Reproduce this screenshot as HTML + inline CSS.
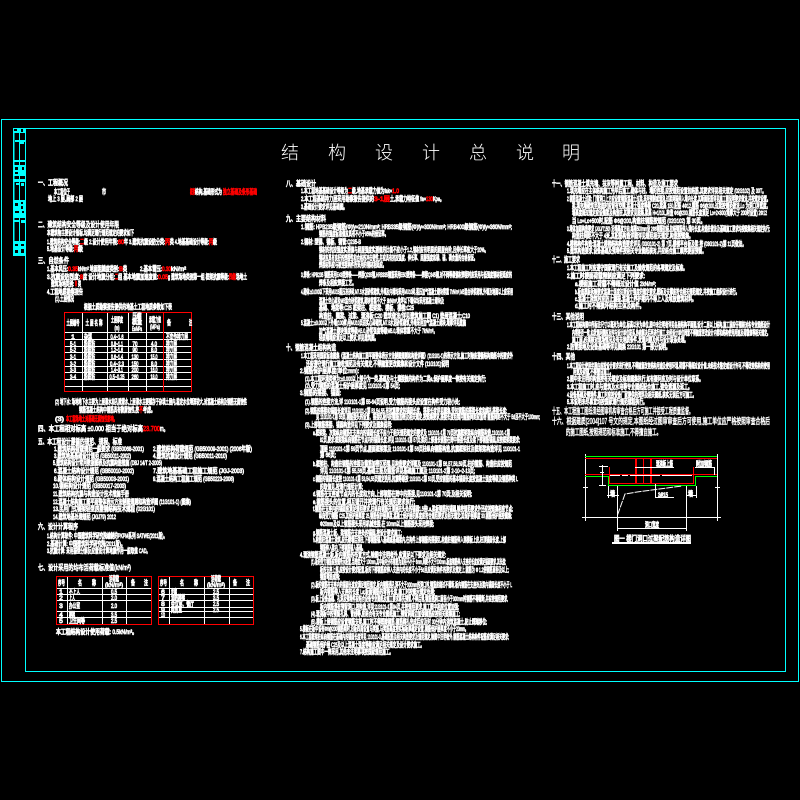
<!DOCTYPE html>
<html lang="zh"><head><meta charset="utf-8"><title>结构设计总说明</title>
<style>
html,body{margin:0;padding:0;background:#000;width:800px;height:800px;overflow:hidden}
svg{display:block}
text{font-family:"Liberation Sans","Noto Sans CJK SC","WenQuanYi Zen Hei",sans-serif;font-size:6.6px;fill:#fff;stroke:#fff;stroke-width:.85}
text.r{fill:#f00;stroke:#f00}
text.h{font-size:7.6px;stroke-width:.8}
text.b{font-size:8.4px;stroke-width:.5}
text.t{font-family:"Noto Sans CJK SC","WenQuanYi Zen Hei",sans-serif;font-size:18px;font-weight:300;stroke:none;text-anchor:middle}
text.c{text-anchor:middle}
.l line,.l path,.l rect{shape-rendering:crispEdges}
</style></head><body>
<svg width="800" height="800" viewBox="0 0 800 800" xmlns="http://www.w3.org/2000/svg">
<rect width="800" height="800" fill="#000"/>
<g class="l" fill="none">
<!-- frame -->
<rect x="1.5" y="119.5" width="797" height="562" stroke="#0ff"/>
<rect x="25.5" y="128.5" width="760" height="543" stroke="#0ff"/>
<rect x="13.5" y="128.5" width="12" height="127" stroke="#0ff"/>
<path d="M19.5 128V256M14 128V256" stroke="#0ff"/>
<g fill="#0ff" stroke="none">
<rect x="13" y="128" width="13" height="5"/><rect x="14" y="129" width="3" height="2" fill="#000"/><rect x="21" y="129" width="2" height="3" fill="#000"/>
<rect x="15" y="140" width="10" height="2"/><rect x="20" y="142" width="4" height="2"/>
<rect x="13" y="160" width="13" height="2"/><rect x="13" y="165" width="13" height="11"/><rect x="15" y="167" width="3" height="3" fill="#000"/><rect x="22" y="167" width="2" height="3" fill="#000"/>
<rect x="15" y="172" width="3" height="2" fill="#000"/>
<rect x="13" y="179" width="13" height="3"/><rect x="16" y="183" width="3" height="2"/><rect x="21" y="183" width="3" height="3"/>
<rect x="13" y="200" width="13" height="18"/><rect x="15" y="203" width="3" height="3" fill="#000"/><rect x="21" y="202" width="2" height="2" fill="#000"/><rect x="21" y="206" width="2" height="3" fill="#000"/>
<rect x="15" y="211" width="4" height="2" fill="#000"/><rect x="22" y="211" width="2" height="2" fill="#000"/>
<rect x="13" y="220" width="6" height="2"/><rect x="21" y="220" width="4" height="3"/>
<rect x="13" y="241" width="13" height="15"/><rect x="15" y="244" width="3" height="2" fill="#000"/><rect x="21" y="244" width="3" height="2" fill="#000"/><rect x="15" y="250" width="3" height="3" fill="#000"/><rect x="21" y="249" width="3" height="4" fill="#000"/>
</g>
<!-- soil table -->
<path d="M64 332.5H192M64 339.5H192M64 346.5H192M64 352.5H192M64 359.5H192M64 366.5H192M64 372.5H192M64 379.5H192M64 386.5H192M82.5 312V392M107.5 312V392M128.5 312V392M146.5 312V392" stroke="#fff"/>
<path d="M163.5 312V392" stroke="#f00"/>
<rect x="64.5" y="312.5" width="127" height="79" stroke="#f00"/>
<!-- load tables -->
<path d="M56 588.5H152M56 594.5H152M56 600.5H152M56 611.5H152M56 617.5H152M67.5 576V625M102.5 576V625M126.5 576V625" stroke="#fff"/>
<rect x="56.5" y="576.5" width="95" height="48" stroke="#f00"/>
<path d="M158 588.5H254M158 594.5H254M158 600.5H254M158 607.5H254M158 611.5H254M158 617.5H254M169.5 576V625M204.5 576V625M229.5 576V625" stroke="#fff"/>
<rect x="158.5" y="576.5" width="95" height="48" stroke="#f00"/>
<!-- detail -->
<path d="M585.5 454V521M717.5 454V521M582 517.5H721M583 487.5H588M715 487.5H720" stroke="#fff"/>
<path d="M585 456.5H717" stroke="#0f0" stroke-width="1"/>
<path d="M585 458.5H717" stroke="#f00"/>
<path d="M585 474.5H717" stroke="#f00"/>
<path d="M585 476.5H608.5V485.5H695.5V476.5H717" stroke="#0f0"/>
<path d="M609.5 467V483.5H693.5V467" stroke="#f00"/>
<rect x="635" y="458" width="2" height="25" fill="#f00" stroke="none"/>
<rect x="650" y="458" width="2" height="25" fill="#f00" stroke="none"/>
<path d="M643.5 458V483" stroke="#f00"/>
<path d="M610 475.5H620M622 475.5H628M630 475.5H654M654 475.5H660M662 475.5H692" stroke="#fff"/>
<path d="M635 467.5H674M695 467.5H714.5V475M602.5 465V485M599 466.5H608M599 485.5H606M600 472.5H604" stroke="#fff"/>
<path d="M655.5 484V497.5H674M608.5 486V498M607 495.5H619M696.5 486V498M686 495.5H696" stroke="#fff"/>
<path d="M617.5 486V531M686.5 486V531M617 528.5H687" stroke="#fff"/>
<rect x="612" y="542" width="79" height="2" fill="#fff" stroke="none"/>
</g>
<path d="M617.5 515L625 494L637 492L652 490L667 488L682 486" fill="none" stroke="#fff" stroke-dasharray="7 1"/>
<!-- title -->
<text class="t" x="290" y="159">结</text><text class="t" x="337" y="159">构</text><text class="t" x="384" y="159">设</text><text class="t" x="431" y="159">计</text><text class="t" x="478" y="159">总</text><text class="t" x="525" y="159">说</text><text class="t" x="571" y="159">明</text>

<!-- column 1 -->
<text class="h" x="38" y="185" textLength="30" lengthAdjust="spacingAndGlyphs">一、工程概况</text>
<text x="54" y="194" textLength="16" lengthAdjust="spacingAndGlyphs">本工程位于</text><text x="102" y="194" textLength="4" lengthAdjust="spacingAndGlyphs">市</text>
<text class="r" x="190" y="194" textLength="5" lengthAdjust="spacingAndGlyphs">框架</text><text x="195" y="194" textLength="27" lengthAdjust="spacingAndGlyphs">结构,基础形式为</text><text class="r" x="223" y="194" textLength="34" lengthAdjust="spacingAndGlyphs">独立基础及条形基础</text>
<text x="48" y="201" textLength="35" lengthAdjust="spacingAndGlyphs">地上 3 层,局部 2 层</text>
<text class="h" x="38" y="227" textLength="81" lengthAdjust="spacingAndGlyphs">二、建筑结构安全等级及设计使用年限</text>
<text x="47" y="235" textLength="87" lengthAdjust="spacingAndGlyphs">本建筑物主要设计指标,均满足现行规范规定的要求如下</text>
<text x="47" y="244" textLength="33" lengthAdjust="spacingAndGlyphs">1.建筑结构安全等级:</text><text class="r" x="80" y="244" textLength="4" lengthAdjust="spacingAndGlyphs">二</text><text x="84" y="244" textLength="34" lengthAdjust="spacingAndGlyphs">级 2.设计使用年限:</text><text class="r" x="118" y="244" textLength="6" lengthAdjust="spacingAndGlyphs">60</text><text x="124" y="244" textLength="41" lengthAdjust="spacingAndGlyphs">年 3.建筑抗震设防分类:</text><text class="r" x="165" y="244" textLength="5" lengthAdjust="spacingAndGlyphs">丙</text><text x="170" y="244" textLength="39" lengthAdjust="spacingAndGlyphs">类 4.地基基础设计等级:</text><text class="r" x="209" y="244" textLength="4" lengthAdjust="spacingAndGlyphs">丙</text><text x="213" y="244" textLength="4" lengthAdjust="spacingAndGlyphs">级</text>
<text x="47" y="251" textLength="27" lengthAdjust="spacingAndGlyphs">5.地基设计等级:</text><text class="r" x="74" y="251" textLength="4" lengthAdjust="spacingAndGlyphs">丙</text><text x="78" y="251" textLength="5" lengthAdjust="spacingAndGlyphs">级</text>
<text class="h" x="38" y="263" textLength="31" lengthAdjust="spacingAndGlyphs">三、自然条件</text>
<text x="47" y="271" textLength="21" lengthAdjust="spacingAndGlyphs">1.基本风压:</text><text class="r" x="68" y="271" textLength="10" lengthAdjust="spacingAndGlyphs">0.35</text><text x="78" y="271" textLength="41" lengthAdjust="spacingAndGlyphs">kN/m² 地面粗糙度类别:</text><text class="r" x="119" y="271" textLength="4" lengthAdjust="spacingAndGlyphs">B</text><text x="123" y="271" textLength="4" lengthAdjust="spacingAndGlyphs">类</text><text x="140" y="271" textLength="22" lengthAdjust="spacingAndGlyphs">2.基本雪压:</text><text class="r" x="162" y="271" textLength="9" lengthAdjust="spacingAndGlyphs">0.30</text><text x="171" y="271" textLength="15" lengthAdjust="spacingAndGlyphs">kN/m²</text>
<text x="47" y="279" textLength="33" lengthAdjust="spacingAndGlyphs">3.抗震设防烈度:</text><text class="r" x="80" y="279" textLength="3" lengthAdjust="spacingAndGlyphs">8</text><text x="83" y="279" textLength="32" lengthAdjust="spacingAndGlyphs">度 设计地震分组:</text><text class="r" x="115" y="279" textLength="3" lengthAdjust="spacingAndGlyphs">二</text><text x="118" y="279" textLength="40" lengthAdjust="spacingAndGlyphs">组 基本地震加速度值:</text><text class="r" x="158" y="279" textLength="10" lengthAdjust="spacingAndGlyphs">0.05</text><text x="168" y="279" textLength="61" lengthAdjust="spacingAndGlyphs">g 建筑场地类别第一组 框架抗震等级:</text><text class="r" x="229" y="279" textLength="7" lengthAdjust="spacingAndGlyphs">四级</text><text x="236" y="279" textLength="11" lengthAdjust="spacingAndGlyphs">场地土</text>
<text x="51" y="286" textLength="23" lengthAdjust="spacingAndGlyphs">建筑场地类别:</text><text class="r" x="74" y="286" textLength="4" lengthAdjust="spacingAndGlyphs">Ⅱ</text><text x="78" y="286" textLength="3" lengthAdjust="spacingAndGlyphs">类</text>
<text x="47" y="294" textLength="36" lengthAdjust="spacingAndGlyphs">4.工程地质勘察报告</text>
<text x="55" y="301" textLength="19" lengthAdjust="spacingAndGlyphs">(1).土层情况</text>
<text x="84" y="309" textLength="88" lengthAdjust="spacingAndGlyphs">根据土质勘察报告提供的地基土工程地质参数如下表</text>
<!-- soil table text -->
<text class="c" x="73" y="325" textLength="13" lengthAdjust="spacingAndGlyphs">土层编号</text><text class="c" x="94" y="325" textLength="17" lengthAdjust="spacingAndGlyphs">土 层 名 称</text>
<text class="c" x="117" y="322" textLength="12" lengthAdjust="spacingAndGlyphs">土层厚度</text><text class="c" x="117" y="330" textLength="5" lengthAdjust="spacingAndGlyphs">(m)</text>
<text class="c" x="137" y="318" textLength="9" lengthAdjust="spacingAndGlyphs">压缩</text><text class="c" x="137" y="324" textLength="10" lengthAdjust="spacingAndGlyphs">模量</text><text class="c" x="137" y="331" textLength="10" lengthAdjust="spacingAndGlyphs">Es/MPa</text>
<text class="c" x="155" y="322" textLength="12" lengthAdjust="spacingAndGlyphs">承载力值</text><text class="c" x="155" y="329" textLength="10" lengthAdjust="spacingAndGlyphs">(MPa)</text>
<text x="167" y="325" textLength="4" lengthAdjust="spacingAndGlyphs">备</text><text x="189" y="325" textLength="3" lengthAdjust="spacingAndGlyphs">注</text>
<text class="c" x="73" y="339">1</text><text x="84" y="339" textLength="8" lengthAdjust="spacingAndGlyphs">杂填</text><text class="c" x="117" y="339" textLength="13" lengthAdjust="spacingAndGlyphs">0.4~1.6</text><text x="166" y="339" textLength="22" lengthAdjust="spacingAndGlyphs">不宜作持力层</text>
<text class="c" x="73" y="346" textLength="6" lengthAdjust="spacingAndGlyphs">5-1</text><text x="84" y="346" textLength="11" lengthAdjust="spacingAndGlyphs">粉质粘</text><text class="c" x="117" y="346" textLength="12" lengthAdjust="spacingAndGlyphs">0.8~1.1</text><text class="c" x="135" y="346" textLength="5" lengthAdjust="spacingAndGlyphs">70</text><text class="c" x="154" y="346" textLength="6" lengthAdjust="spacingAndGlyphs">4.0</text><text x="166" y="346" textLength="11" lengthAdjust="spacingAndGlyphs">持力层</text>
<text class="c" x="73" y="352" textLength="6" lengthAdjust="spacingAndGlyphs">5-2</text><text x="84" y="352" textLength="11" lengthAdjust="spacingAndGlyphs">粉质粘</text><text class="c" x="117" y="352" textLength="12" lengthAdjust="spacingAndGlyphs">1.2~1.6</text><text class="c" x="135" y="352" textLength="5" lengthAdjust="spacingAndGlyphs">90</text><text class="c" x="154" y="352" textLength="6" lengthAdjust="spacingAndGlyphs">8.0</text><text x="166" y="352" textLength="11" lengthAdjust="spacingAndGlyphs">持力层</text>
<text class="c" x="73" y="359" textLength="6" lengthAdjust="spacingAndGlyphs">3-1</text><text x="84" y="359" textLength="11" lengthAdjust="spacingAndGlyphs">粉质粘</text><text class="c" x="117" y="359" textLength="12" lengthAdjust="spacingAndGlyphs">0.6~1.4</text><text class="c" x="135" y="359" textLength="7" lengthAdjust="spacingAndGlyphs">130</text><text class="c" x="154" y="359" textLength="7" lengthAdjust="spacingAndGlyphs">15.0</text><text x="166" y="359" textLength="11" lengthAdjust="spacingAndGlyphs">持力层</text>
<text class="c" x="73" y="366" textLength="6" lengthAdjust="spacingAndGlyphs">3-2</text><text x="84" y="366" textLength="11" lengthAdjust="spacingAndGlyphs">粉质粘</text><text class="c" x="117" y="366" textLength="14" lengthAdjust="spacingAndGlyphs">0.4~2.3</text><text class="c" x="135" y="366" textLength="7" lengthAdjust="spacingAndGlyphs">150</text><text class="c" x="154" y="366" textLength="6" lengthAdjust="spacingAndGlyphs">8.0</text><text x="166" y="366" textLength="11" lengthAdjust="spacingAndGlyphs">持力层</text>
<text class="c" x="73" y="372" textLength="6" lengthAdjust="spacingAndGlyphs">3-3</text><text x="84" y="372" textLength="11" lengthAdjust="spacingAndGlyphs">粉质粘</text><text class="c" x="117" y="372" textLength="12" lengthAdjust="spacingAndGlyphs">1.4~3.1</text><text class="c" x="135" y="372" textLength="7" lengthAdjust="spacingAndGlyphs">200</text><text class="c" x="154" y="372" textLength="7" lengthAdjust="spacingAndGlyphs">16.0</text><text x="166" y="372" textLength="11" lengthAdjust="spacingAndGlyphs">持力层</text>
<text class="c" x="73" y="379" textLength="6" lengthAdjust="spacingAndGlyphs">3-4</text><text x="84" y="379" textLength="11" lengthAdjust="spacingAndGlyphs">粉质粘</text><text class="c" x="117" y="379" textLength="15" lengthAdjust="spacingAndGlyphs">0.5~0.25</text><text class="c" x="135" y="379" textLength="7" lengthAdjust="spacingAndGlyphs">260</text><text class="c" x="154" y="379" textLength="7" lengthAdjust="spacingAndGlyphs">18.0</text><text x="166" y="379" textLength="11" lengthAdjust="spacingAndGlyphs">持力层</text>

<text x="55" y="404" textLength="192" lengthAdjust="spacingAndGlyphs">(2) 地下水: 场地地下水主要为上层滞水和孔隙潜水,上层滞水主要赋存于杂填土层内,稳定水位埋深较大,对混凝土结构及钢筋无腐蚀性</text>
<text x="79" y="412" textLength="60" lengthAdjust="spacingAndGlyphs">钢筋混凝土结构中钢筋具有微腐蚀性,按</text><text class="r" x="139" y="412" textLength="4" lengthAdjust="spacingAndGlyphs">不</text><text x="143" y="412" textLength="12" lengthAdjust="spacingAndGlyphs">考虑。</text>
<text x="55" y="421" textLength="9" lengthAdjust="spacingAndGlyphs">(3)</text><text class="r" x="66" y="421" textLength="51" lengthAdjust="spacingAndGlyphs">本工程场地土对基础无腐蚀性影响。</text>
<text class="h" x="38" y="431" textLength="105" lengthAdjust="spacingAndGlyphs">四、本工程相对标高 ±0.000 相当于绝对标高</text><text class="r h" x="143" y="431" textLength="17" lengthAdjust="spacingAndGlyphs">23.700</text><text class="h" x="160" y="431" textLength="8" lengthAdjust="spacingAndGlyphs">m。</text>
<text class="h" x="38" y="444" textLength="84" lengthAdjust="spacingAndGlyphs">五、本工程设计遵循的规范、规程、标准</text>
<text x="54" y="451" textLength="90" lengthAdjust="spacingAndGlyphs">1.建筑结构荷载规范一般要求 (GB50068-2001)</text><text x="153" y="451" textLength="99" lengthAdjust="spacingAndGlyphs">2.建筑结构荷载规范 (GB50009-2001) (2006年版)</text>
<text x="54" y="458" textLength="77" lengthAdjust="spacingAndGlyphs">3.建筑地基基础设计规范 (GB50011-2002)</text><text x="153" y="458" textLength="74" lengthAdjust="spacingAndGlyphs">4.建筑抗震设计规范 (GB50011-2010)</text>
<text x="53" y="465" textLength="109" lengthAdjust="spacingAndGlyphs">5.建筑结构设计常用数据图表及抗震构造措施 (DBJ 14/T 2-2005)</text>
<text x="54" y="473" textLength="80" lengthAdjust="spacingAndGlyphs">6.混凝土结构设计规范 (GB50010-2002)</text><text x="153" y="473" textLength="91" lengthAdjust="spacingAndGlyphs">7.建筑地基基础工程施工规范 (JGJ-2003)</text>
<text x="54" y="481" textLength="75" lengthAdjust="spacingAndGlyphs">8.砌体结构设计规范 (GB50003-2001)</text><text x="153" y="481" textLength="81" lengthAdjust="spacingAndGlyphs">9.混凝土结构工程施工规范 (GB50223-2008)</text>
<text x="53" y="488" textLength="73" lengthAdjust="spacingAndGlyphs">10.钢结构设计规范 (GB50017-2003)</text>
<text x="53" y="496" textLength="76" lengthAdjust="spacingAndGlyphs">11.建筑结构抗震与构造设计技术措施手册</text>
<text x="53" y="504" textLength="138" lengthAdjust="spacingAndGlyphs">12.混凝土结构施工图平面整体表示方法制图规则和构造详图 (11G101-1) (图集)</text>
<text x="53" y="511" textLength="102" lengthAdjust="spacingAndGlyphs">13.民用门式钢架轻型房屋钢结构技术规程 (02G101)</text>
<text x="53" y="519" textLength="63" lengthAdjust="spacingAndGlyphs">14.建筑地基处理规范 (JGJ79) 2012</text>
<text class="h" x="38" y="529" textLength="40" lengthAdjust="spacingAndGlyphs">六、设计计算程序</text>
<text x="47" y="538" textLength="120" lengthAdjust="spacingAndGlyphs">1.结构计算软件: 中国建筑科学研究院编制的PKPM系列 SATWE(2011版)。</text>
<text x="47" y="546" textLength="78" lengthAdjust="spacingAndGlyphs">2.基础计算: 中国建筑科学研究院(2011版)。</text>
<text x="47" y="553" textLength="103" lengthAdjust="spacingAndGlyphs">3.抗震计算: 采用振型分解反应谱法计算地震作用一般取值 CAD。</text>
<text class="h" x="38" y="570" textLength="93" lengthAdjust="spacingAndGlyphs">七、设计采用的均布活荷载标准值(kN/m²)</text>
<!-- load tables text -->
<text class="c" x="61.5" y="585" textLength="7" lengthAdjust="spacingAndGlyphs">序号</text><text x="78" y="585" textLength="4" lengthAdjust="spacingAndGlyphs">名</text><text x="92" y="585" textLength="4" lengthAdjust="spacingAndGlyphs">称</text><text class="c" x="114" y="581" textLength="10" lengthAdjust="spacingAndGlyphs">活荷载</text><text class="c" x="114" y="587" textLength="18" lengthAdjust="spacingAndGlyphs">(kN/m²)</text><text x="131" y="585" textLength="4" lengthAdjust="spacingAndGlyphs">备</text><text x="144" y="585" textLength="4" lengthAdjust="spacingAndGlyphs">注</text>
<text class="c" x="61" y="594">1</text><text x="69" y="594" textLength="11" lengthAdjust="spacingAndGlyphs">不上人</text><text class="c" x="114" y="594" textLength="6" lengthAdjust="spacingAndGlyphs">0.5</text>
<text class="c" x="61" y="600">2</text><text x="69" y="600" textLength="6" lengthAdjust="spacingAndGlyphs">上人</text><text class="c" x="114" y="600" textLength="6" lengthAdjust="spacingAndGlyphs">2.0</text>
<text class="c" x="61" y="608">3</text><text x="69" y="608" textLength="11" lengthAdjust="spacingAndGlyphs">办公室</text><text class="c" x="114" y="608" textLength="6" lengthAdjust="spacingAndGlyphs">2.0</text>
<text class="c" x="61" y="617">4</text><text x="69" y="617" textLength="6" lengthAdjust="spacingAndGlyphs">楼梯</text><text class="c" x="114" y="617" textLength="6" lengthAdjust="spacingAndGlyphs">3.5</text>
<text class="c" x="61" y="623">5</text><text x="69" y="623" textLength="16" lengthAdjust="spacingAndGlyphs">卫生间等</text><text class="c" x="114" y="623" textLength="6" lengthAdjust="spacingAndGlyphs">2.5</text>
<text class="c" x="163.5" y="585" textLength="7" lengthAdjust="spacingAndGlyphs">序号</text><text x="180" y="585" textLength="4" lengthAdjust="spacingAndGlyphs">名</text><text x="194" y="585" textLength="4" lengthAdjust="spacingAndGlyphs">称</text><text class="c" x="216" y="581" textLength="10" lengthAdjust="spacingAndGlyphs">活荷载</text><text class="c" x="216" y="587" textLength="18" lengthAdjust="spacingAndGlyphs">(kN/m²)</text><text x="233" y="585" textLength="4" lengthAdjust="spacingAndGlyphs">备</text><text x="246" y="585" textLength="4" lengthAdjust="spacingAndGlyphs">注</text>
<text class="c" x="163" y="594">6</text><text x="171" y="594" textLength="6" lengthAdjust="spacingAndGlyphs">走廊</text><text class="c" x="216" y="594" textLength="6" lengthAdjust="spacingAndGlyphs">2.5</text>
<text class="c" x="163" y="600">7</text><text x="171" y="600" textLength="14" lengthAdjust="spacingAndGlyphs">消防楼梯</text><text class="c" x="216" y="600" textLength="6" lengthAdjust="spacingAndGlyphs">3.5</text>
<text class="c" x="163" y="606">8</text><text x="171" y="606" textLength="23" lengthAdjust="spacingAndGlyphs">会议室、餐厅</text><text class="c" x="216" y="606" textLength="6" lengthAdjust="spacingAndGlyphs">2.5</text>
<text class="c" x="163" y="612">9</text><text x="171" y="612" textLength="11" lengthAdjust="spacingAndGlyphs">阅览室</text><text class="c" x="216" y="612" textLength="6" lengthAdjust="spacingAndGlyphs">2.5</text>
<text class="c" x="163" y="617" textLength="4" lengthAdjust="spacingAndGlyphs">10</text>
<text x="56" y="634" textLength="81" lengthAdjust="spacingAndGlyphs">本工程结构设计使用荷载: 0.5kN/m²。</text>

<!-- column 2 -->
<text class="h" x="286" y="186" textLength="30" lengthAdjust="spacingAndGlyphs">八、基础设计</text>
<text x="301" y="193" textLength="47" lengthAdjust="spacingAndGlyphs">1.本工程地基基础设计等级为</text><text class="r" x="348" y="193" textLength="4" lengthAdjust="spacingAndGlyphs">二</text><text x="352" y="193" textLength="40" lengthAdjust="spacingAndGlyphs">级,地基承载力值为fak=</text><text class="r" x="392" y="193" textLength="7" lengthAdjust="spacingAndGlyphs">1.0</text>
<text x="301" y="201" textLength="73" lengthAdjust="spacingAndGlyphs">2.本工程基础持力层采用勘察报告提供的</text><text class="r" x="374" y="201" textLength="16" lengthAdjust="spacingAndGlyphs">3-1层</text><text x="390" y="201" textLength="36" lengthAdjust="spacingAndGlyphs">土,承载力特征值 fa=</text><text class="r" x="426" y="201" textLength="7" lengthAdjust="spacingAndGlyphs">130</text><text x="433" y="201" textLength="11" lengthAdjust="spacingAndGlyphs">Kpa。</text>
<text x="301" y="209" textLength="46" lengthAdjust="spacingAndGlyphs">3.基础设计要求详见基础图。</text>
<text class="h" x="286" y="221" textLength="40" lengthAdjust="spacingAndGlyphs">九、主要结构材料</text>
<text x="301" y="229" textLength="211" lengthAdjust="spacingAndGlyphs">1.钢筋: HPB235级钢筋(Φ)fy=210N/mm²; HRB335级钢筋(Φ)fy=300N/mm²; HRB400级钢筋(Φ)fy=360N/mm²;</text>
<text x="319" y="236" textLength="69" lengthAdjust="spacingAndGlyphs">钢筋的强度标准值应具有不小于95%的保证率。</text>
<text x="301" y="244" textLength="60" lengthAdjust="spacingAndGlyphs">2.钢材: 型钢、钢板、钢管:Q235-B</text>
<text x="319" y="252" textLength="169" lengthAdjust="spacingAndGlyphs">钢材的抗拉强度实测值与屈服强度实测值的比值不应小于1.2,钢材应有明显的屈服台阶,且伸长率应大于20%。</text>
<text x="319" y="260" textLength="158" lengthAdjust="spacingAndGlyphs">钢材应具有良好的焊接性和合格的冲击韧性,并应具有抗拉强度、伸长率、屈服强度和碳、硫、磷含量的合格保证。</text>
<text x="319" y="267" textLength="67" lengthAdjust="spacingAndGlyphs">焊接材料应与被连接构件所采用的钢材相适应。</text>
<text x="301" y="277" textLength="211" lengthAdjust="spacingAndGlyphs">3.焊条: HPB235 钢筋采用E43型焊条——焊接Q235钢,HRB335钢筋采用E50型焊条——焊接Q345钢,对不同等级钢材焊接时应采用与低强度钢材相适应的</text>
<text x="319" y="285" textLength="37" lengthAdjust="spacingAndGlyphs">焊条及相应焊接工艺。</text>
<text x="301" y="294" textLength="212" lengthAdjust="spacingAndGlyphs">4.砌体:±0.000以下采用MU15蒸压灰砂砖,M7.5水泥砂浆砌筑,外墙及内墙均采用MU10砖,蒸压加气混凝土砌块容重 7kN/m³,M5混合砂浆砌筑,外墙及地面以上应采用</text>
<text x="319" y="303" textLength="125" lengthAdjust="spacingAndGlyphs">混凝土空心砖及M5混合砂浆砌筑,砌块容重不大于 8kN/m³,地坪以下墙体均采用混凝土砌块及</text>
<text x="319" y="310" textLength="95" lengthAdjust="spacingAndGlyphs">基础、地梁等:C25 框架柱、框架梁、楼板、楼梯:C25</text>
<text x="319" y="318" textLength="151" lengthAdjust="spacingAndGlyphs">构造柱、圈梁、过梁、现浇板:C20 建筑做法(详见建筑施工图 C1) 垫层混凝土:C10</text>
<text x="301" y="325" textLength="165" lengthAdjust="spacingAndGlyphs">5.混凝土:±0.000以下外墙(100厚)用MU10页岩实心砖砌筑,M7.5水泥砂浆砌筑,外墙采用加气混凝土砌块,墙厚详见建施</text>
<text x="319" y="333" textLength="118" lengthAdjust="spacingAndGlyphs">加气混凝土砌块强度等级A5.0,砂浆强度等级M5.0,墙体容重不大于 7kN/m³。</text>
<text x="319" y="340" textLength="59" lengthAdjust="spacingAndGlyphs">轻质隔墙应满足以上要求,详见建筑图。</text>
<text class="h" x="286" y="350" textLength="50" lengthAdjust="spacingAndGlyphs">十、钢筋混凝土结构构造</text>
<text x="301" y="358" textLength="212" lengthAdjust="spacingAndGlyphs">1.本工程采用国家标准图集《混凝土结构施工图平面整体表示方法制图规则和构造详图》(11G101-1)的表示方法,施工时除应遵循结构图纸中的要求外</text>
<text x="306" y="366" textLength="143" lengthAdjust="spacingAndGlyphs">还应遵守现行施工验收规范及有关规定,不得随意更改图集和设计文件 (11G101)说明</text>
<text x="300" y="373" textLength="59" lengthAdjust="spacingAndGlyphs">2.钢筋保护层厚度(单位:mm):</text>
<text x="305" y="381" textLength="181" lengthAdjust="spacingAndGlyphs">(1).本工程环境类别为:±0.000以上部分为一类,基础及与土壤接触的构件为二类a,保护层厚度一律按有关规定执行;</text>
<text x="305" y="388" textLength="95" lengthAdjust="spacingAndGlyphs">(2).受力钢筋的混凝土保护层厚度见 11G101-1第 54页;</text>
<text x="300" y="395" textLength="41" lengthAdjust="spacingAndGlyphs">3.钢筋的搭接、锚固:</text>
<text x="305" y="404" textLength="155" lengthAdjust="spacingAndGlyphs">(1).钢筋的连接方法,详 11G101-1第 55-64页说明,受力钢筋的接头应设置在构件受力较小处;</text>
<text x="305" y="413" textLength="202" lengthAdjust="spacingAndGlyphs">(2).钢筋的搭接和锚固长度详见 11G101-1第 53,54,55,有抗震要求的锚固长度、搭接长度详见图集,受拉钢筋的搭接长度和绑扎搭接长度;</text>
<text x="316" y="419" textLength="224" lengthAdjust="spacingAndGlyphs">见 11G101-1第 55页,钢筋接头的设置、搭接区段内的箍筋加密及相关规定,按图集要求,搭接长度范围内箍筋间距应加密 箍筋间距不大于 5d且不大于100mm;</text>
<text x="305" y="427" textLength="87" lengthAdjust="spacingAndGlyphs">(3).上部钢筋搭接、锚固构造详见下列要求及图集说明:</text>
<text x="313" y="435" textLength="197" lengthAdjust="spacingAndGlyphs">a.框架梁、次梁纵向钢筋在支座内的锚固长度不应小于相关规范规定的要求及 11G101-1第 79页抗震框架梁纵向钢筋构造,11G101-1第</text>
<text x="320" y="442" textLength="200" lengthAdjust="spacingAndGlyphs">82页,要求:框架梁纵向钢筋在节点内的锚固长度,详见 11G101-1第 57页;梁的上部通长钢筋在跨中搭接长度及梁下部钢筋锚固,应按框架梁要求;</text>
<text x="320" y="451" textLength="200" lengthAdjust="spacingAndGlyphs">顶层 11G101-1第 59页节点,屋面框架梁及 11G101-1第 56页柱纵向钢筋构造,抗震框架柱及框架梁构造详见 11G101-1</text>
<text x="320" y="457" textLength="16" lengthAdjust="spacingAndGlyphs">第 66页;</text>
<text x="313" y="466" textLength="199" lengthAdjust="spacingAndGlyphs">b.框架柱、构造柱钢筋的连接及箍筋加密区范围,见构造要求详图及 11G101-1第 56,57,58,59页,柱的箍筋、构造柱应按规范</text>
<text x="320" y="473" textLength="155" lengthAdjust="spacingAndGlyphs">详见 11G101-1第 55,56页,基础主筋及箍筋详见基础施工图及 11G101-2第 2-10~2-13页;</text>
<text x="313" y="481" textLength="205" lengthAdjust="spacingAndGlyphs">c.钢筋的锚固长度按 11G101-1第 53,54,55页规定选用,抗震等级按 11G101-1第 53页,受拉钢筋的基本锚固长度按混凝土强度等级及钢筋种类 L</text>
<text x="320" y="489" textLength="43" lengthAdjust="spacingAndGlyphs">的取值见,按现行规范计算;</text>
<text x="313" y="496" textLength="159" lengthAdjust="spacingAndGlyphs">d.钢筋在支座或节点内的长度和方向,上部钢筋在跨中的搭接,见11G101-1第 70页;及相关说明;</text>
<text x="313" y="504" textLength="102" lengthAdjust="spacingAndGlyphs">e.钢筋接头的位置,相互错开并按现行有关规范要求执行;</text>
<text x="313" y="511" textLength="200" lengthAdjust="spacingAndGlyphs">f.钢筋在支座内的锚固应满足规范要求,柱纵向钢筋在顶层柱头处的锚固1.5倍La,梁板钢筋的锚固,除按规范要求外还应按图集相应节点;</text>
<text x="319" y="518" textLength="193" lengthAdjust="spacingAndGlyphs">纵向受力钢筋 C25,其保护层厚度 25,钢筋保护层厚度,混凝土保护层的厚度应符合规范要求及相关规定;其保护层厚度 30,钢筋保护层按图集;</text>
<text x="320" y="526" textLength="114" lengthAdjust="spacingAndGlyphs">Φ20mm及以上钢筋接头采用机械连接,在 10mm以上钢筋接头采用焊接;</text>
<text x="313" y="535" textLength="89" lengthAdjust="spacingAndGlyphs">g.钢筋混凝土板、梁钢筋在支座处的锚固,按设计要求施工;</text>
<text x="313" y="542" textLength="193" lengthAdjust="spacingAndGlyphs">h.构造柱混凝土浇筑,应先砌墙后浇柱,下部钢筋锚入基础或基础梁内,在构件上部钢筋的搭接区,构造柱钢筋伸入到楼板上皮,柱顶锚固长度,上部</text>
<text x="320" y="550" textLength="45" lengthAdjust="spacingAndGlyphs">钢筋伸入梁内,下部钢筋锚入基础。</text>
<text x="300" y="557" textLength="146" lengthAdjust="spacingAndGlyphs">4.现浇钢筋混凝土板,板内钢筋的布置方式,除图中注明者外,应满足以下要求及相关规定:</text>
<text x="311" y="564" textLength="195" lengthAdjust="spacingAndGlyphs">(1).板的受力钢筋应按图所示配置,当跨度大于 100mm,其中板内分布钢筋为直径不小于 6mm,间距不大于200mm,板底钢筋伸入支座的长度应满足锚固要求,其长度;</text>
<text x="320" y="572" textLength="189" lengthAdjust="spacingAndGlyphs">板的支座上部,应按设计要求配置,板的下部钢筋应伸入支座内的长度不小于5d且应满足构件的要求及规定上,钢筋为 Φ 1.2倍钢筋直径及以上;</text>
<text x="320" y="579" textLength="20" lengthAdjust="spacingAndGlyphs">钢筋弯曲成钩;</text>
<text x="311" y="587" textLength="201" lengthAdjust="spacingAndGlyphs">(2).板的钢筋在支座内的锚固长度应满足规范规定,板内钢筋遇孔洞不大于300mm的洞口时,钢筋应绕过不截断,板内钢筋在支座处及梁内锚固长度不小于 L</text>
<text x="320" y="594" textLength="115" lengthAdjust="spacingAndGlyphs">板内钢筋伸入支座的长度 La;板面钢筋的弯钩长度,施工时按图示规定处理;</text>
<text x="311" y="601" textLength="197" lengthAdjust="spacingAndGlyphs">(3).板上设备基础、孔洞及预埋件应结合设备专业图纸及施工要求事先预留,不得后凿,钢筋遇洞口直径小于300mm时钢筋不得截断,并应按规范要求,</text>
<text x="320" y="609" textLength="139" lengthAdjust="spacingAndGlyphs">板内钢筋遇有预留洞口,按构造,详见11G101-1第94页,并按规范要求,施工图中相应位置加强;</text>
<text x="311" y="616" textLength="149" lengthAdjust="spacingAndGlyphs">(4).现浇板中的预留孔洞、管线等,应结合有关专业图纸施工,预留洞周边加强钢筋应按相关图集施工;</text>
<text x="311" y="624" textLength="176" lengthAdjust="spacingAndGlyphs">(5).楼板上层钢筋应设置钢筋支架,施工时不得踩踏钢筋,钢筋绑扎完成后应及时 30分钟内浇筑混凝土,防止踩踏移位;</text>
<text x="300" y="631" textLength="168" lengthAdjust="spacingAndGlyphs">5.楼板在板中设有Φ6@200钢筋网时,沿板四周设置马凳筋,马凳筋高度按实际板厚确定设置,钢筋保护层厚度不小于20mm。</text>
<text x="300" y="639" textLength="209" lengthAdjust="spacingAndGlyphs">6.本工程框架柱纵向钢筋在基础内的锚固长度详见 11G101-3,基础配筋及相关构造要求及规范规定,除图中注明者外,钢筋混凝土结构构件配筋应满足相关要求;</text>
<text x="306" y="647" textLength="118" lengthAdjust="spacingAndGlyphs">基础钢筋保护层 C25及以上混凝土强度等级应满足相关规定及设计要求施工。</text>
<text x="300" y="654" textLength="93" lengthAdjust="spacingAndGlyphs">7.结构施工图中一律采用,其他未注明事项按国家规范施工。</text>

<!-- column 3 -->
<text class="h" x="552" y="186" textLength="126" lengthAdjust="spacingAndGlyphs">十一、钢筋混凝土填充墙、抹灰等附属工程、材料、构造及施工要求</text>
<text x="567" y="193" textLength="199" lengthAdjust="spacingAndGlyphs">1.填充墙应在主体结构施工完毕后施工,砌体与柱、墙的连接,应按规范设置拉结筋,其要求详见相关规定 (02G102) 及 30T。</text>
<text x="567" y="201" textLength="203" lengthAdjust="spacingAndGlyphs">2.钢筋混凝土过梁: 门窗洞口上方应设置钢筋混凝土过梁,采用预制或现浇,过梁两端伸入墙内长度,其断面配筋详见施工图说明要求做法,并按规定设置。</text>
<text x="572" y="208" textLength="198" lengthAdjust="spacingAndGlyphs">梁,填充墙砌筑至梁底时应留有空隙,混凝土强度等级 C20,梁高 150,配筋 4Φ12,箍筋 Φ6@200,过梁按规范做法,Lo 为洞口净宽度。</text>
<text x="572" y="215" textLength="195" lengthAdjust="spacingAndGlyphs">墙高度超过规定应设圈梁及构造柱,其要求见图集,梁高 H=1/10L,构造 Φ6@200,钢筋长度满足 Lo+2×300(墙厚大于 200时设置) 2Φ12</text>
<text x="572" y="223" textLength="133" lengthAdjust="spacingAndGlyphs">当 Lo=Lo+500时,配筋 Φ6@200,构造柱钢筋按规范 (02G102) 第 30页。</text>
<text x="567" y="231" textLength="203" lengthAdjust="spacingAndGlyphs">3.墙体加固构造要求 (JGJ/T150) 沿墙高度方向,每隔500mm设 2Φ6钢筋拉结,拉结钢筋伸入墙内长度,构造柱做法及基础施工要求均按图集相关规定执行;</text>
<text x="572" y="238" textLength="121" lengthAdjust="spacingAndGlyphs">构造柱间距不大于 4米,其配筋构造详图详见规范相关规定,构造按图集。</text>
<text x="567" y="246" textLength="179" lengthAdjust="spacingAndGlyphs">4.楼梯构件构造:混凝土楼梯结构构造要求详见 (03G101-2) 第 7页,楼梯平台板及梁 按 (03G101-2)第 11页做法。</text>
<text x="567" y="253" textLength="139" lengthAdjust="spacingAndGlyphs">5.建筑构造要求,设备基础及预埋件按相关专业图纸核对,并应结合施工顺序提前预留。</text>
<text class="h" x="552" y="262" textLength="28" lengthAdjust="spacingAndGlyphs">十二、施工要求</text>
<text x="567" y="270" textLength="120" lengthAdjust="spacingAndGlyphs">1.本工程施工时应遵守国家现行有关施工及验收规范的各项规定及标准。</text>
<text x="567" y="278" textLength="78" lengthAdjust="spacingAndGlyphs">2.施工时楼面荷载限制应满足下列要求:</text>
<text x="575" y="286" textLength="81" lengthAdjust="spacingAndGlyphs">a.楼面施工荷载不得超过设计值 2kN/m²;</text>
<text x="575" y="294" textLength="164" lengthAdjust="spacingAndGlyphs">b.板底模板拆除要求混凝土强度达到设计强度的规定要求,模板及支撑应符合相关规范规定,并按施工组织设计进行。</text>
<text x="575" y="301" textLength="121" lengthAdjust="spacingAndGlyphs">c.混凝土浇筑时应防止漏振,混凝土养护期内不得上人及堆放建筑材料。</text>
<text x="575" y="308" textLength="69" lengthAdjust="spacingAndGlyphs">d.施工时不得损坏结构主体及构件。</text>
<text class="h" x="552" y="319" textLength="32" lengthAdjust="spacingAndGlyphs">十三、其他说明</text>
<text x="567" y="327" textLength="203" lengthAdjust="spacingAndGlyphs">1.本工程结构图中所标注尺寸以毫米为单位,标高以米为单位,图中未注明者详见各层结构平面图,设计二层以上结构,施工前应仔细核对各专业图纸设计</text>
<text x="572" y="335" textLength="198" lengthAdjust="spacingAndGlyphs">内容是否一致,如发现问题应及时与设计单位联系,协商解决后再进行施工,未经设计单位同意不得随意更改设计内容和结构使用用途及荷载值等相关规定。</text>
<text x="572" y="342" textLength="116" lengthAdjust="spacingAndGlyphs">施工前,必须核对现场情况及有关地质条件,发现问题及时与设计联系处理。</text>
<text x="567" y="349" textLength="103" lengthAdjust="spacingAndGlyphs">2.防雷接地及设备基础等详见图集 22G101 第一部分说明。</text>
<text class="h" x="552" y="359" textLength="23" lengthAdjust="spacingAndGlyphs">十四、其他</text>
<text x="567" y="368" textLength="203" lengthAdjust="spacingAndGlyphs">1.本工程设计使用年限内应按设计要求进行使用,不得随意改变结构用途及使用环境,荷载不得超过设计值,未经技术鉴定或设计许可,不得改变结构的使用</text>
<text x="573" y="374" textLength="40" lengthAdjust="spacingAndGlyphs">用途及荷载,不得擅自施工。</text>
<text x="567" y="381" textLength="136" lengthAdjust="spacingAndGlyphs">2.图中未注明的构造按有关规定及标准图集执行,如有疑问应及时与设计单位联系。</text>
<text x="567" y="389" textLength="125" lengthAdjust="spacingAndGlyphs">3.本工程施工时,应与建筑及水电等专业图纸配合施工,避免遗漏及返工。</text>
<text x="567" y="397" textLength="129" lengthAdjust="spacingAndGlyphs">4.设备基础及预埋件,施工时应按设备厂家提供的资料及相关图纸,核实无误后方可施工。</text>
<text x="567" y="404" textLength="80" lengthAdjust="spacingAndGlyphs">5.本说明未尽事宜均按国家现行规范规程执行。</text>
<text class="b" x="552" y="414" textLength="141" lengthAdjust="spacingAndGlyphs">十五、本工程施工图纸须经图审机构审查合格后方可施工并接受工程质量监督。</text>
<text class="b" x="552" y="424" textLength="218" lengthAdjust="spacingAndGlyphs">十六、根据建质[2004]107 号文的规定,本图纸经过图审审查后方可使用,施工单位应严格按照审查合格后</text>
<text class="b" x="566" y="435" textLength="95" lengthAdjust="spacingAndGlyphs">的施工图纸,按照规范和标准施工,不得擅自施工。</text>
<!-- detail labels -->
<text x="656" y="466" textLength="17" lengthAdjust="spacingAndGlyphs">现浇板上筋</text>
<text x="696" y="466" textLength="16" lengthAdjust="spacingAndGlyphs">附加钢筋</text>
<text x="658" y="497" textLength="10" lengthAdjust="spacingAndGlyphs">3#15</text>
<text x="610" y="496" textLength="5" lengthAdjust="spacingAndGlyphs">墙</text>
<text x="688" y="496" textLength="5" lengthAdjust="spacingAndGlyphs">墙</text>
<text x="645" y="527" textLength="14" lengthAdjust="spacingAndGlyphs">洞口宽度</text>
<text class="h" x="614" y="541" textLength="77" lengthAdjust="spacingAndGlyphs">图一 楼门洞口过梁配筋构造详图</text>
</svg>
</body></html>
